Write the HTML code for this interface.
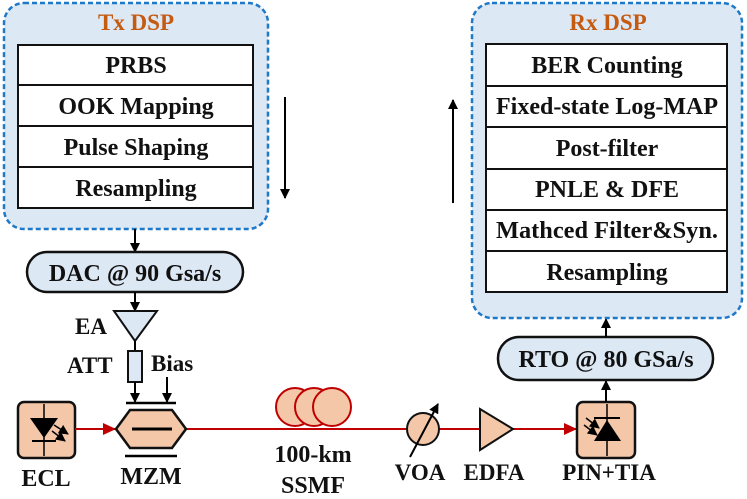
<!DOCTYPE html>
<html><head><meta charset="utf-8"><style>
html,body{margin:0;padding:0;background:#fff;}
svg{display:block;}
text{font-family:"Liberation Serif",serif;font-weight:bold;fill:#111;}
</style></head><body>
<svg width="747" height="499" viewBox="0 0 747 499" xmlns="http://www.w3.org/2000/svg">
<defs>
<marker id="ab" markerWidth="10" markerHeight="10" refX="9" refY="5" orient="auto" markerUnits="userSpaceOnUse"><path d="M0,0 L10,5 L0,10 z" fill="#000"/></marker>
<marker id="ar" markerWidth="14" markerHeight="14" refX="13" refY="7" orient="auto" markerUnits="userSpaceOnUse"><path d="M0,1 L13,7 L0,13 z" fill="#c00000"/></marker>
</defs>
<!-- Tx DSP -->
<rect x="4" y="3" width="264" height="226" rx="20" fill="#dde8f5" stroke="#1f78c8" stroke-width="2.5" stroke-dasharray="5,3"/>
<text x="136" y="30" font-size="23" text-anchor="middle" style="fill:#c55a11">Tx DSP</text>
<g stroke="#111" stroke-width="2" fill="#fff">
<rect x="18" y="45" width="235" height="163"/>
<line x1="18" y1="85" x2="253" y2="85"/><line x1="18" y1="126" x2="253" y2="126"/><line x1="18" y1="167" x2="253" y2="167"/>
</g>
<g font-size="24" text-anchor="middle">
<text x="136" y="73">PRBS</text><text x="136" y="114">OOK Mapping</text><text x="136" y="155">Pulse Shaping</text><text x="136" y="196">Resampling</text>
</g>
<line x1="285" y1="97" x2="285" y2="198" stroke="#000" stroke-width="2" marker-end="url(#ab)"/>
<line x1="135" y1="229" x2="135" y2="252" stroke="#000" stroke-width="2" marker-end="url(#ab)"/>
<rect x="27" y="252" width="216" height="40" rx="20" fill="#dde8f5" stroke="#111" stroke-width="2.5"/>
<text x="135" y="281" font-size="24" text-anchor="middle">DAC @ 90 Gsa/s</text>
<line x1="135" y1="292" x2="135" y2="311" stroke="#000" stroke-width="2" marker-end="url(#ab)"/>
<polygon points="114,311 157,311 135,341" fill="#dde8f5" stroke="#111" stroke-width="2"/>
<text x="75" y="334" font-size="23">EA</text>
<line x1="135" y1="341" x2="135" y2="351" stroke="#000" stroke-width="2"/>
<rect x="128" y="351" width="14" height="31" fill="#dde8f5" stroke="#111" stroke-width="2"/>
<text x="67" y="373" font-size="23">ATT</text>
<text x="151" y="371" font-size="23">Bias</text>
<line x1="135" y1="382" x2="135" y2="402" stroke="#000" stroke-width="2" marker-end="url(#ab)"/>
<line x1="167" y1="377" x2="167" y2="402" stroke="#000" stroke-width="2" marker-end="url(#ab)"/>
<line x1="126" y1="403" x2="176" y2="403" stroke="#000" stroke-width="2.5"/>
<!-- ECL -->
<rect x="18" y="402" width="57" height="56" rx="6" fill="#f4c7a9" stroke="#111" stroke-width="2.5"/>
<line x1="44" y1="404" x2="44" y2="456" stroke="#000" stroke-width="1.5"/>
<polygon points="30,418 58,418 44,438" fill="#000"/>
<line x1="32" y1="441" x2="56" y2="441" stroke="#000" stroke-width="2"/>
<line x1="54" y1="425" x2="68" y2="434" stroke="#000" stroke-width="1.5" marker-end="url(#ab)"/>
<line x1="52" y1="431" x2="65" y2="441" stroke="#000" stroke-width="1.5" marker-end="url(#ab)"/>
<text x="46" y="486" font-size="24" text-anchor="middle">ECL</text>
<!-- red line -->
<line x1="75" y1="429" x2="116" y2="429" stroke="#c00000" stroke-width="2" marker-end="url(#ar)"/>
<line x1="186" y1="429" x2="577" y2="429" stroke="#c00000" stroke-width="2" marker-end="url(#ar)"/>
<!-- MZM -->
<polygon points="116,429 130,410 172,410 186,429 172,448 130,448" fill="#f4c7a9" stroke="#111" stroke-width="2.5"/>
<line x1="132" y1="429" x2="172" y2="429" stroke="#000" stroke-width="3"/>
<line x1="125" y1="456" x2="177" y2="456" stroke="#000" stroke-width="2.5"/>
<text x="151" y="484" font-size="24" text-anchor="middle">MZM</text>
<!-- fiber -->
<g fill="#f4c7a9" stroke="#c00000" stroke-width="2">
<circle cx="295" cy="407" r="19"/><circle cx="314" cy="407" r="19"/><circle cx="332" cy="407" r="19"/>
</g>
<text x="313" y="462" font-size="24" text-anchor="middle">100-km</text>
<text x="313" y="493" font-size="24" text-anchor="middle">SSMF</text>
<!-- VOA -->
<circle cx="423" cy="429" r="16" fill="#f4c7a9" stroke="#111" stroke-width="2"/>
<line x1="410" y1="457" x2="438" y2="404" stroke="#000" stroke-width="2" marker-end="url(#ab)"/>
<text x="420" y="480" font-size="23" text-anchor="middle">VOA</text>
<!-- EDFA -->
<polygon points="480,409 513,429 480,450" fill="#f4c7a9" stroke="#111" stroke-width="2"/>
<text x="494" y="480" font-size="23" text-anchor="middle">EDFA</text>
<!-- PIN -->
<rect x="577" y="402" width="58" height="56" rx="6" fill="#f4c7a9" stroke="#111" stroke-width="2.5"/>
<line x1="607" y1="404" x2="607" y2="456" stroke="#000" stroke-width="1.5"/>
<polygon points="594,441 621,441 607,420" fill="#000"/>
<line x1="594" y1="418" x2="620" y2="418" stroke="#000" stroke-width="2"/>
<line x1="586" y1="418" x2="599" y2="428" stroke="#000" stroke-width="1.5" marker-end="url(#ab)"/>
<line x1="584" y1="425" x2="597" y2="435" stroke="#000" stroke-width="1.5" marker-end="url(#ab)"/>
<text x="609" y="480" font-size="23" text-anchor="middle">PIN+TIA</text>
<line x1="606" y1="402" x2="606" y2="381" stroke="#000" stroke-width="2" marker-end="url(#ab)"/>
<rect x="498" y="337" width="215" height="43" rx="21" fill="#dde8f5" stroke="#111" stroke-width="2.5"/>
<text x="606" y="367" font-size="24" text-anchor="middle">RTO @ 80 GSa/s</text>
<line x1="606" y1="337" x2="606" y2="319" stroke="#000" stroke-width="2" marker-end="url(#ab)"/>
<!-- Rx DSP -->
<rect x="472" y="3" width="270" height="315" rx="20" fill="#dde8f5" stroke="#1f78c8" stroke-width="2.5" stroke-dasharray="5,3"/>
<text x="608" y="30" font-size="23" text-anchor="middle" style="fill:#c55a11">Rx DSP</text>
<g stroke="#111" stroke-width="2" fill="#fff">
<rect x="486" y="44" width="241" height="248"/>
<line x1="486" y1="86" x2="727" y2="86"/><line x1="486" y1="127" x2="727" y2="127"/><line x1="486" y1="169" x2="727" y2="169"/><line x1="486" y1="210" x2="727" y2="210"/><line x1="486" y1="251" x2="727" y2="251"/>
</g>
<g font-size="24" text-anchor="middle">
<text x="607" y="73">BER Counting</text><text x="607" y="114" textLength="222" lengthAdjust="spacingAndGlyphs">Fixed-state Log-MAP</text><text x="607" y="156">Post-filter</text><text x="607" y="197">PNLE &amp; DFE</text><text x="607" y="238" textLength="222" lengthAdjust="spacingAndGlyphs">Mathced Filter&amp;Syn.</text><text x="607" y="280">Resampling</text>
</g>
<line x1="453" y1="203" x2="453" y2="100" stroke="#000" stroke-width="2" marker-end="url(#ab)"/>
</svg>
</body></html>
